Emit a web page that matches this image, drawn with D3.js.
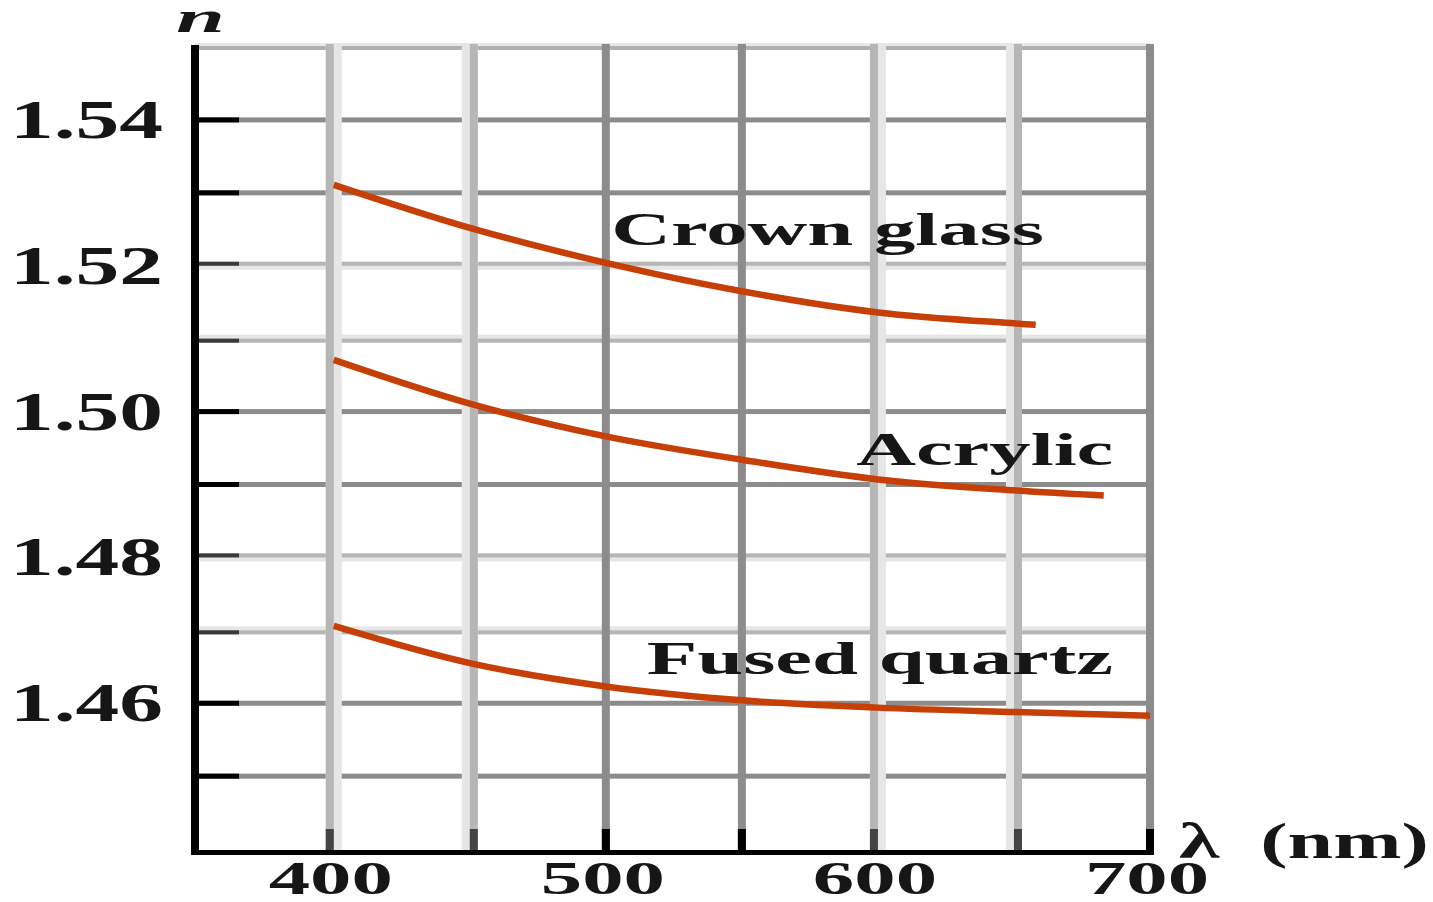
<!DOCTYPE html>
<html>
<head>
<meta charset="utf-8">
<script src="https://cdn.jsdelivr.net/npm/d3@7"></script>
<style>
  body { margin: 0; background: #fff; }
  svg { display: block; }
  text { font-family: "Liberation Serif", "Times New Roman", serif; fill: #161616; font-weight: bold; }
</style>
</head>
<body>
<script>
// Refractive index n versus wavelength for three transparent materials
const crownLambda  = [400, 450, 500, 550, 600, 650, 658];
const crownN       = [1.5311, 1.5252, 1.5204, 1.5165, 1.5136, 1.5121, 1.5119];
const acrylicLambda = [400, 450, 500, 550, 600, 650, 683];
const acrylicN      = [1.5071, 1.5011, 1.4966, 1.4934, 1.4907, 1.4892, 1.4885];
const quartzLambda = [400, 450, 500, 550, 600, 650, 700];
const quartzN      = [1.4706, 1.4655, 1.4623, 1.4604, 1.4594, 1.4588, 1.4583];

const seriesNames = ["Crown glass", "Acrylic", "Fused quartz"];
// label anchor (wavelength, index) for each series name
const labelLambda = [502.0, 592.0, 515.0];
const labelN      = [1.5229, 1.4927, 1.4640];

const xGrid = [400, 450, 500, 550, 600, 650, 700];
const xTickLabels = ["400", "500", "600", "700"];
const yGrid = [1.45, 1.46, 1.47, 1.48, 1.49, 1.50, 1.51, 1.52, 1.53, 1.54];
const yTickLabels = ["1.46", "1.48", "1.50", "1.52", "1.54"];

const W = 1433, H = 902;
const x = d3.scaleLinear().domain([349, 700]).range([195, 1150]);
const y = d3.scaleLinear().domain([1.4396, 1.55]).range([852, 47]);

const svg = d3.select("body").append("svg").attr("width", W).attr("height", H);

// lighter, two-tone grid lines vs. solid darker ones; side = where the darker stripe sits
const softX = new Map([[400, -1], [450, 1], [600, -1], [650, 1]]);
const softY = new Map([[1.52, -1], [1.51, 1], [1.48, -1], [1.47, 1]]);
const key = v => Math.round(v * 100) / 100;

const grid = svg.append("g");
const yTop = y(1.55), yBottom = y(1.4396), xLeft = x(349), xRight = x(700);

// top border (two-tone)
grid.append("rect").attr("x", xLeft).attr("y", yTop - 4).attr("width", xRight - xLeft).attr("height", 3).attr("fill", "#e8e8e8");
grid.append("rect").attr("x", xLeft).attr("y", yTop - 1).attr("width", xRight - xLeft).attr("height", 4).attr("fill", "#b0b0b0");

// horizontal grid lines
yGrid.forEach(v => {
  const yy = y(v), s = softY.get(key(v));
  if (s === undefined) {
    grid.append("rect").attr("x", xLeft).attr("y", yy - 2.5).attr("width", xRight - xLeft).attr("height", 5).attr("fill", "#8c8c8c");
  } else {
    grid.append("rect").attr("x", xLeft).attr("y", yy - 4).attr("width", xRight - xLeft).attr("height", 8).attr("fill", "#e6e6e6");
    grid.append("rect").attr("x", xLeft).attr("y", s < 0 ? yy - 4 : yy).attr("width", xRight - xLeft).attr("height", 4).attr("fill", "#b6b6b6");
  }
});

// vertical grid lines
xGrid.forEach(v => {
  const xx = x(v), s = softX.get(v);
  if (s === undefined) {
    grid.append("rect").attr("x", xx - 4).attr("y", yTop - 3).attr("width", 8).attr("height", yBottom - yTop + 3).attr("fill", "#8c8c8c");
  } else {
    grid.append("rect").attr("x", xx - 8).attr("y", yTop - 3).attr("width", 16).attr("height", yBottom - yTop + 3).attr("fill", "#e6e6e6");
    grid.append("rect").attr("x", s < 0 ? xx - 8 : xx).attr("y", yTop - 3).attr("width", 8).attr("height", yBottom - yTop + 3).attr("fill", "#b6b6b6");
  }
});

// tick marks on the left axis
yGrid.forEach(v => {
  const yy = y(v), s = softY.get(key(v));
  svg.append("rect").attr("x", xLeft).attr("y", s === undefined ? yy - 2.5 : (s < 0 ? yy - 4 : yy))
    .attr("width", 44).attr("height", s === undefined ? 5 : 4)
    .attr("fill", s === undefined ? "#000" : "#3a3a3a");
});
// tick marks on the bottom axis
xGrid.forEach(v => {
  const xx = x(v), s = softX.get(v);
  svg.append("rect").attr("x", s === undefined ? xx - 4 : (s < 0 ? xx - 8 : xx)).attr("y", yBottom - 23)
    .attr("width", 8).attr("height", 23)
    .attr("fill", s === undefined ? "#000" : "#444");
});

// axes
svg.append("rect").attr("x", xLeft - 4).attr("y", yTop - 2).attr("width", 8).attr("height", yBottom - yTop + 5).attr("fill", "#000");
svg.append("rect").attr("x", xLeft - 4).attr("y", yBottom - 2).attr("width", xRight - xLeft + 8).attr("height", 5).attr("fill", "#000");

// curves
const line = d3.line().x(d => x(d[0])).y(d => y(d[1])).curve(d3.curveCatmullRom.alpha(0.5));
const series = [
  d3.zip(crownLambda, crownN),
  d3.zip(acrylicLambda, acrylicN),
  d3.zip(quartzLambda, quartzN)
];
svg.append("g").selectAll("path").data(series).join("path")
  .attr("d", line)
  .attr("fill", "none")
  .attr("stroke", "#c63f06")
  .attr("stroke-width", 6.5)
  .attr("stroke-linecap", "butt");

// series names
seriesNames.forEach((name, i) => {
  svg.append("text")
    .attr("transform", `translate(${x(labelLambda[i])},${y(labelN[i])}) scale(1.76,1)`)
    .attr("font-size", 47)
    .text(name);
});

// y tick labels
yTickLabels.forEach(t => {
  svg.append("text")
    .attr("transform", `translate(163,${y(+t) + 18}) scale(1.62,1)`)
    .attr("text-anchor", "end")
    .attr("font-size", 54)
    .text(t);
});

// x tick labels
xTickLabels.forEach(t => {
  svg.append("text")
    .attr("transform", `translate(${x(+t) - 3},894) scale(1.8,1)`)
    .attr("text-anchor", "middle")
    .attr("font-size", 46)
    .text(t);
});

// axis titles
svg.append("text")
  .attr("transform", "translate(1179,858) scale(1.64,1)")
  .attr("font-size", 50)
  .attr("xml:space", "preserve")
  .text("λ  (nm)");
svg.append("text")
  .attr("transform", "translate(176,32) scale(2,1)")
  .attr("font-size", 44)
  .attr("font-style", "italic")
  .text("n");
</script>
</body>
</html>
